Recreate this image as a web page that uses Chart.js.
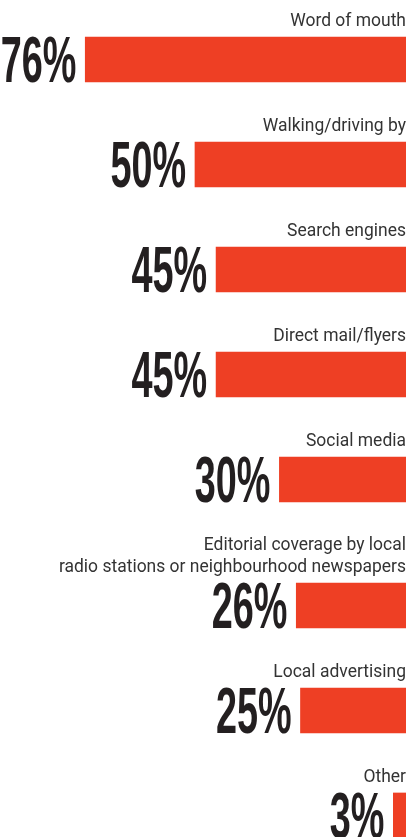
<!DOCTYPE html>
<html>
<head>
<meta charset="utf-8">
<script src="https://cdn.jsdelivr.net/npm/chart.js@4/dist/chart.umd.min.js"></script>
<style>
  body { margin: 0; background: #fff; }
  #wrap { width: 407px; height: 837px; }
</style>
</head>
<body>
<div id="wrap"><canvas id="grafico" width="407" height="837"></canvas></div>
<script>
const categorias = [
    'Word of mouth',
    'Walking/driving by',
    'Search engines',
    'Direct mail/flyers',
    'Social media',
    ['Editorial coverage by local', 'radio stations or neighbourhood newspapers'],
    'Local advertising',
    'Other'
]
const porcentajes = [76, 50, 45, 45, 30, 26, 25, 3]

// a label with extra lines pushes its own bar (and the ones after) down
const lineasExtra = 0.2
let acumulado = 0
const filas = categorias.map((cat, i) => {
    if (Array.isArray(cat)) acumulado += (cat.length - 1) * lineasExtra
    return i + acumulado
})

const rojo = '#ee3f24'
const tinta = '#231f20'

const datos = porcentajes.map((v, i) => ({ x: v, y: filas[i] }))

const fuenteNumero = 'bold 100px "Liberation Sans Narrow", "Liberation Sans", sans-serif'

const etiquetas = {
    id: 'etiquetas',
    afterDatasetsDraw(chart) {
        const ctx = chart.ctx
        const meta = chart.getDatasetMeta(0)
        const derecha = chart.chartArea.right

        // squeeze the numbers so the digits come out tall and narrow
        ctx.save()
        ctx.font = fuenteNumero
        const m = ctx.measureText('0')
        ctx.restore()
        const escY = 46 / m.actualBoundingBoxAscent
        const escX = 21 / m.width

        meta.data.forEach((bar, i) => {
            const arriba = bar.y - bar.height / 2
            const abajo = bar.y + bar.height / 2

            ctx.save()
            ctx.fillStyle = tinta
            ctx.font = fuenteNumero
            ctx.textAlign = 'right'
            ctx.textBaseline = 'alphabetic'
            ctx.translate(bar.x - 9, abajo)
            ctx.scale(escX, escY)
            ctx.fillText(porcentajes[i] + '%', 0, 0)
            ctx.restore()

            // category name above the bar, right aligned
            const lineas = Array.isArray(categorias[i]) ? categorias[i] : [categorias[i]]
            ctx.save()
            ctx.fillStyle = '#333'
            ctx.font = '19px Roboto, sans-serif'
            ctx.textAlign = 'right'
            ctx.textBaseline = 'alphabetic'
            lineas.forEach((t, j) => {
                const y = arriba - 11 - (lineas.length - 1 - j) * 22
                ctx.save()
                ctx.translate(derecha, y)
                ctx.scale(0.92, 1)
                ctx.fillText(t, 0, 0)
                ctx.restore()
            })
            ctx.restore()
        })
    }
}

const config = {
    type: 'bar',
    data: {
        datasets: [{
            data: datos,
            backgroundColor: rojo,
            barThickness: 45
        }]
    },
    options: {
        indexAxis: 'y',
        responsive: false,
        animation: false,
        devicePixelRatio: 1,
        layout: { padding: { top: 0, right: 1, bottom: 0, left: 0 } },
        plugins: { legend: { display: false }, tooltip: { enabled: false } },
        scales: {
            x: { type: 'linear', reverse: true, min: 0, max: 96.2, display: false },
            y: { type: 'linear', reverse: true, offset: false, min: -0.5667, max: 7.405, display: false }
        }
    },
    plugins: [etiquetas]
}

new Chart(document.querySelector('#grafico'), config)
</script>
</body>
</html>
